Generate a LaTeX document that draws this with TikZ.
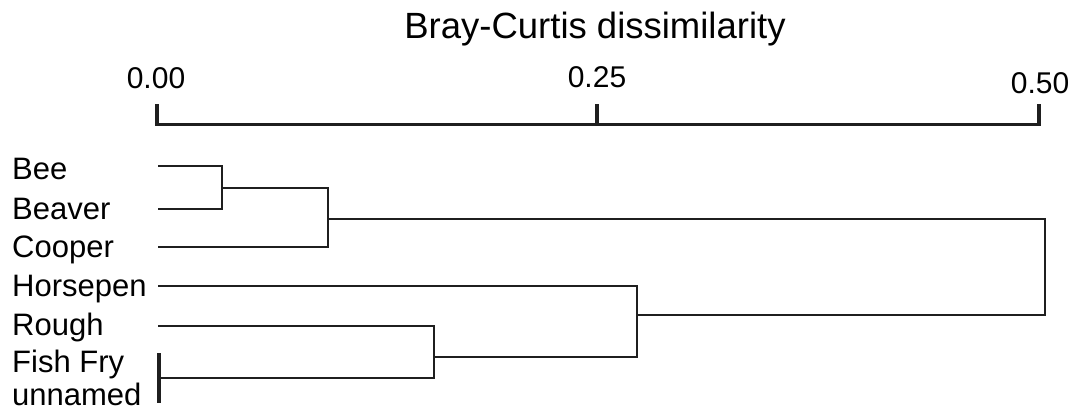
\documentclass[tikz,border=0pt]{standalone}
\usepackage{fontspec}
\setmainfont{Liberation Sans}
\begin{document}
\begin{tikzpicture}[x=1pt,y=-1pt,
  lbl/.style={anchor=base west, inner sep=0pt, font=\fontsize{31}{37}\selectfont},
  ticklbl/.style={anchor=base, inner sep=0pt, font=\fontsize{30}{36}\selectfont},
  axisline/.style={line width=3.4pt, line join=miter, color=black!88},
  branch/.style={line width=2.7pt, line join=miter, color=black!88},
  bar/.style={line width=3.2pt, color=black!88}]
\useasboundingbox (0,0) rectangle (1075,410);
% title and tick labels
\node[anchor=base, inner sep=0pt, font=\fontsize{36.5}{44}\selectfont] (title) at (595,38) {Bray-Curtis dissimilarity};
\node[ticklbl] (t0) at (156,88) {0.00};
\node[ticklbl] (t1) at (597,87) {0.25};
\node[ticklbl] (t2) at (1040,93) {0.50};
% axis
\coordinate (a0) at (157,124.5);
\coordinate (a1) at (597,124.5);
\coordinate (a2) at (1039,124.5);
\coordinate (a0t) at (157,104);
\coordinate (a1t) at (597,104);
\coordinate (a2t) at (1039,104);
\draw[axisline] (a0t) -- (a0) -- (a2) -- (a2t);
\draw[axisline] (a1) -- (a1t);
% leaf labels
\node[lbl] (Lbee) at (12,179) {Bee};
\node[lbl] (Lbeaver) at (12,219) {Beaver};
\node[lbl] (Lcooper) at (12,257) {Cooper};
\node[lbl] (Lhorse) at (12,296) {Horsepen};
\node[lbl] (Lrough) at (12,335) {Rough};
\node[lbl] (Lfish) at (12,372) {Fish Fry};
\node[lbl] (Lunnamed) at (12,405) {unnamed};
% leaf ends
\coordinate (bee) at (158,166);
\coordinate (beaver) at (158,209);
\coordinate (cooper) at (158,247);
\coordinate (horse) at (158,286);
\coordinate (rough) at (158,326);
\coordinate (fish) at (159,353);
\coordinate (unnamed) at (159,403);
\coordinate (fu) at (159,378);
% joints
\coordinate (j1) at (222,188);
\coordinate (j2) at (328,219);
\coordinate (j3) at (434,357);
\coordinate (j4) at (637,315);
\coordinate (root) at (1045,315);
% dendrogram
\draw[bar] (fish) -- (unnamed);
\draw[branch] (bee) -| (j1) |- (beaver);
\draw[branch] (j1) -| (j2) |- (cooper);
\draw[branch] (rough) -| (j3) |- (fu);
\draw[branch] (horse) -| (j4) |- (j3);
\draw[branch] (j2) -| (root) -- (j4);
\end{tikzpicture}
\end{document}
